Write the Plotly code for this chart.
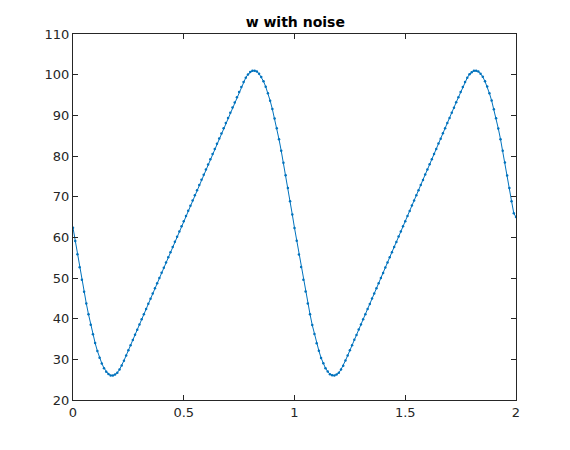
import plotly.graph_objects as go

# sample times (step 0.01 from 0 to 2)
t_start = 0.0
t_step = 0.01
n_samples = 201

# values, first period (t = 0.00 .. 0.99)
w_period1 = [
    62.35, 59.08, 55.85, 52.67, 49.58, 46.60, 43.75, 41.06, 38.50, 36.16,
    33.99, 32.06, 30.38, 29.00, 27.83, 26.97, 26.38, 26.05, 26.02, 26.25,
    26.73, 27.47, 28.46, 29.68, 30.95, 32.22, 33.49, 34.76, 36.03, 37.30,
    38.57, 39.84, 41.11, 42.38, 43.65, 44.92, 46.19, 47.46, 48.73, 50.00,
    51.27, 52.54, 53.81, 55.08, 56.35, 57.62, 58.89, 60.16, 61.43, 62.70,
    63.97, 65.24, 66.51, 67.78, 69.05, 70.32, 71.59, 72.86, 74.13, 75.40,
    76.67, 77.94, 79.21, 80.48, 81.75, 83.02, 84.29, 85.56, 86.83, 88.10,
    89.37, 90.64, 91.91, 93.18, 94.45, 95.72, 96.99, 98.19, 99.26, 100.07,
    100.63, 100.94, 100.99, 100.76, 100.24, 99.45, 98.38, 97.04, 95.45, 93.61,
    91.53, 89.25, 86.81, 84.11, 81.30, 78.36, 75.24, 72.11, 68.90, 65.63,
]

# values, second period (t = 1.00 .. 2.00)
w_period2 = [
    62.30, 59.15, 55.80, 52.70, 49.55, 46.65, 43.70, 41.10, 38.45, 36.20,
    33.95, 32.10, 30.35, 29.05, 27.80, 27.00, 26.35, 26.08, 26.00, 26.28,
    26.70, 27.50, 28.43, 29.70, 30.92, 32.25, 33.47, 34.79, 36.00, 37.33,
    38.55, 39.86, 41.09, 42.40, 43.63, 44.95, 46.17, 47.48, 48.71, 50.03,
    51.25, 52.56, 53.79, 55.10, 56.33, 57.65, 58.87, 60.18, 61.41, 62.72,
    63.95, 65.26, 66.49, 67.80, 69.03, 70.35, 71.57, 72.88, 74.11, 75.43,
    76.65, 77.96, 79.19, 80.50, 81.73, 83.05, 84.27, 85.58, 86.81, 88.12,
    89.35, 90.66, 91.89, 93.20, 94.43, 95.74, 96.97, 98.21, 99.24, 100.09,
    100.61, 100.96, 100.97, 100.78, 100.22, 99.47, 98.36, 97.06, 95.43, 93.63,
    91.51, 89.27, 86.79, 84.13, 81.28, 78.38, 75.22, 72.13, 68.88, 65.90,
    65.00,
]

w_values = w_period1 + w_period2
t_values = [round(t_start + i * t_step, 2) for i in range(n_samples)]

x_ticks = [0, 0.5, 1, 1.5, 2]
x_tick_labels = ["0", "0.5", "1", "1.5", "2"]
y_ticks = [20, 30, 40, 50, 60, 70, 80, 90, 100, 110]
y_tick_labels = [str(v) for v in y_ticks]

line_color = "#0072BD"
axis_color = "#262626"
font_family = "DejaVu Sans, Liberation Sans, Arial, sans-serif"

fig = go.Figure()
fig.add_trace(go.Scatter(
    x=t_values, y=w_values,
    mode="lines+markers",
    line=dict(color=line_color, width=1),
    marker=dict(color=line_color, size=2.5),
    showlegend=False,
    hoverinfo="x+y",
))

axis_common = dict(
    showline=True, linecolor=axis_color, linewidth=1,
    mirror="ticks", ticks="inside", ticklen=5, tickwidth=1, tickcolor=axis_color,
    showgrid=False, zeroline=False,
    tickfont=dict(family=font_family, size=13, color=axis_color),
)

fig.update_layout(
    width=570, height=450,
    margin=dict(l=65, r=62, t=26, b=58),
    paper_bgcolor="white", plot_bgcolor="white",
    title=dict(
        text="<b>w with noise</b>",
        x=(65 + 221) / 570, xanchor="center", xref="paper",
        y=1 - 14 / 450, yanchor="middle",
        font=dict(family=font_family, size=14, color="#000000"),
    ),
    xaxis=dict(range=[0, 2], tickvals=x_ticks, ticktext=x_tick_labels, **axis_common),
    yaxis=dict(range=[20, 110], tickvals=y_ticks, ticktext=y_tick_labels, **axis_common),
)

fig.write_html("out.html")
